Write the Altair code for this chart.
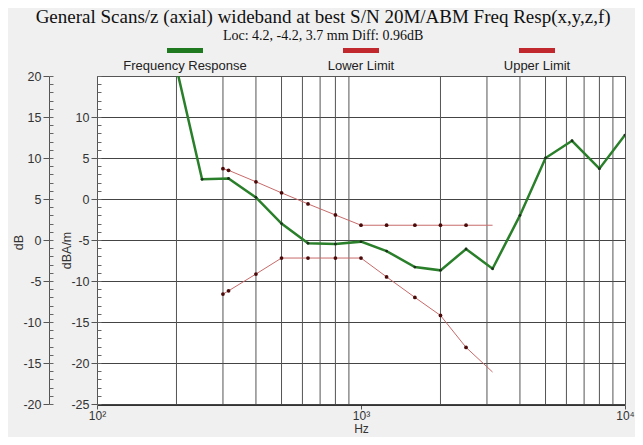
import altair as alt
import pandas as pd

# ---------------- data ----------------
resp_hz = [200, 250, 315, 400, 500, 630, 800, 1000, 1250, 1600, 2000, 2500, 3150, 4000, 5000, 6300, 8000, 10000]
resp_val = [16.0, 2.4, 2.5, 0.2, -3.0, -5.4, -5.5, -5.2, -6.35, -8.3, -8.7, -6.1, -8.5, -2.0, 5.0, 7.1, 3.7, 7.8]

limit_hz = [300, 315, 400, 500, 630, 800, 1000, 1250, 1600, 2000, 2500, 3150]
upper_val = [3.7, 3.5, 2.1, 0.75, -0.6, -1.95, -3.2, -3.2, -3.2, -3.2, -3.2, -3.2]
lower_val = [-11.6, -11.2, -9.15, -7.2, -7.2, -7.2, -7.2, -9.5, -12.0, -14.2, -18.1, -21.1]

grid_hz = [200, 300, 400, 500, 600, 700, 800, 900, 2000, 3000, 4000, 5000, 6000, 7000, 8000, 9000]
decade_hz = [100, 1000, 10000]

legend_names = ["Frequency Response", "Lower Limit", "Upper Limit"]
legend_colors = ["#1f7a1f", "#c0282d", "#c0282d"]

inner_ticks = [-25, -20, -15, -10, -5, 0, 5, 10]      # dBA/m
outer_ticks = [-20, -15, -10, -5, 0, 5, 10, 15, 20]   # dB
inner_minor = list(range(-25, 16))
outer_minor = list(range(-20, 21))

title_text = "General Scans/z (axial) wideband at best S/N 20M/ABM Freq Resp(x,y,z,f)"
subtitle_text = "Loc: 4.2, -4.2, 3.7 mm Diff: 0.96dB"

# ---------------- tables ----------------
resp_df = pd.DataFrame({"hz": resp_hz, "val": resp_val})
lim_df = pd.concat([
    pd.DataFrame({"hz": limit_hz, "val": lower_val, "series": "Lower Limit"}),
    pd.DataFrame({"hz": limit_hz, "val": upper_val, "series": "Upper Limit"}),
])
grid_df = pd.DataFrame({"hz": grid_hz})
leg_df = pd.DataFrame({"name": legend_names, "color": legend_colors})
inner_df = pd.DataFrame({"v": [-25, 15]})
outer_df = pd.DataFrame({"v": [-20, 20]})

FONT = "Liberation Sans"
LBL = 12.5
PLOT_H = 328
INNER = alt.Scale(domain=[-25, 15], nice=False, zero=False)
OUTER = alt.Scale(domain=[-20, 20], nice=False, zero=False)
XS = alt.Scale(type="log", domain=[100, 10000], nice=False)

x_main = alt.X(
    "hz:Q", scale=XS,
    axis=alt.Axis(
        values=decade_hz, grid=False, title="Hz", offset=1,
        labelExpr="datum.value == 100 ? '10²' : datum.value == 1000 ? '10³' : '10⁴'",
        labelFont=FONT, labelFontSize=12, labelColor="#333", labelPadding=1,
        titleFont=FONT, titleFontSize=12, titleFontWeight="normal", titleColor="#333",
        titlePadding=2, tickSize=4, tickColor="#555", domainColor="#333",
        labelFlush=False,
    ),
)

vgrid = alt.Chart(grid_df).mark_rule(color="#555", strokeWidth=1).encode(x=alt.X("hz:Q", scale=XS))

y_inner = alt.Y(
    "val:Q", scale=INNER,
    axis=alt.Axis(
        orient="left", values=inner_ticks, grid=True, gridColor="#444", gridWidth=1,
        tickSize=6, tickColor="#555", domainColor="#555",
        labelExpr="toString(datum.value)",
        labelFont=FONT, labelFontSize=LBL, labelColor="#333", labelPadding=2,
        title="dBA/m", titleFont=FONT, titleFontSize=12.5, titleFontWeight="normal",
        titleColor="#333", titleX=-31, titleY=174, titleBaseline="middle", titleAngle=-90,
    ),
)

green_line = alt.Chart(resp_df).mark_line(color="#2a7f2a", strokeWidth=2.5, clip=True).encode(
    x=x_main, y=y_inner, order="hz:Q")
green_pts = alt.Chart(resp_df).mark_point(filled=True, color="#1c2e1c", size=8, opacity=1, clip=True).encode(
    x=alt.X("hz:Q", scale=XS), y=alt.Y("val:Q", scale=INNER))
red_lines = alt.Chart(lim_df).mark_line(color="#c86a6a", strokeWidth=1).encode(
    x=alt.X("hz:Q", scale=XS), y=alt.Y("val:Q", scale=INNER), detail="series:N", order="hz:Q")
red_pts = alt.Chart(lim_df).transform_filter("datum.hz < 3000").mark_point(
    filled=True, color="#4a0a0a", size=14, opacity=1).encode(
    x=alt.X("hz:Q", scale=XS), y=alt.Y("val:Q", scale=INNER))

main = alt.layer(vgrid, green_line, red_lines, red_pts, green_pts)

outer_axis = alt.Chart(outer_df).mark_point(opacity=0).encode(
    y=alt.Y("v:Q", scale=OUTER, axis=alt.Axis(
        orient="left", values=outer_ticks, offset=48, grid=False,
        tickSize=6, tickColor="#555", domainColor="#555",
        labelExpr="toString(datum.value)",
        labelFont=FONT, labelFontSize=LBL, labelColor="#333", labelPadding=2,
        title="dB", titleFont=FONT, titleFontSize=12.5, titleFontWeight="normal",
        titleColor="#333", titleX=-31, titleY=166, titleBaseline="middle", titleAngle=-90)))

inner_minor_axis = alt.Chart(inner_df).mark_point(opacity=0).encode(
    y=alt.Y("v:Q", scale=INNER, axis=alt.Axis(
        orient="left", values=inner_minor, offset=-4, grid=False, domain=False,
        tickSize=4, tickColor="#666", labels=False, title=None)))

outer_minor_axis = alt.Chart(outer_df).mark_point(opacity=0).encode(
    y=alt.Y("v:Q", scale=OUTER, axis=alt.Axis(
        orient="left", values=outer_minor, offset=44, grid=False, domain=False,
        tickSize=4, tickColor="#666", labels=False, title=None)))

swatch_path = "M-1,-0.14L1,-0.14L1,0.14L-1,0.14Z"
leg_x = alt.X("name:N", scale=alt.Scale(domain=legend_names), axis=None)
leg_sw = alt.Chart(leg_df).mark_point(shape=swatch_path, filled=True, size=1296, opacity=1).encode(
    x=leg_x, y=alt.value(-25.5),
    color=alt.Color("color:N", scale=None))
leg_tx = alt.Chart(leg_df).mark_text(font=FONT, fontSize=13, color="#222", baseline="middle").encode(
    x=leg_x, y=alt.value(-10), text="name:N")

chart = alt.layer(main, outer_axis, inner_minor_axis, outer_minor_axis, leg_sw, leg_tx).resolve_scale(
    y="independent", x="independent"
).properties(
    width=528, height=PLOT_H,
    autosize=alt.AutoSizeParams(type="none"),
    padding={"left": 89, "top": 68, "right": 10, "bottom": 33},
    background="#f0f0f0",
    title=alt.TitleParams(
        text=title_text, subtitle=subtitle_text,
        font="Liberation Serif", fontSize=19, fontWeight="normal", color="#111",
        subtitleFont="Liberation Serif", subtitleFontSize=14, subtitleColor="#111",
        subtitlePadding=2, anchor="middle", frame="bounds", offset=5,
    ),
).configure_view(fill="white", stroke="#555", strokeWidth=1)

chart.save("out.html", embed_options={"renderer": "svg", "actions": False})
